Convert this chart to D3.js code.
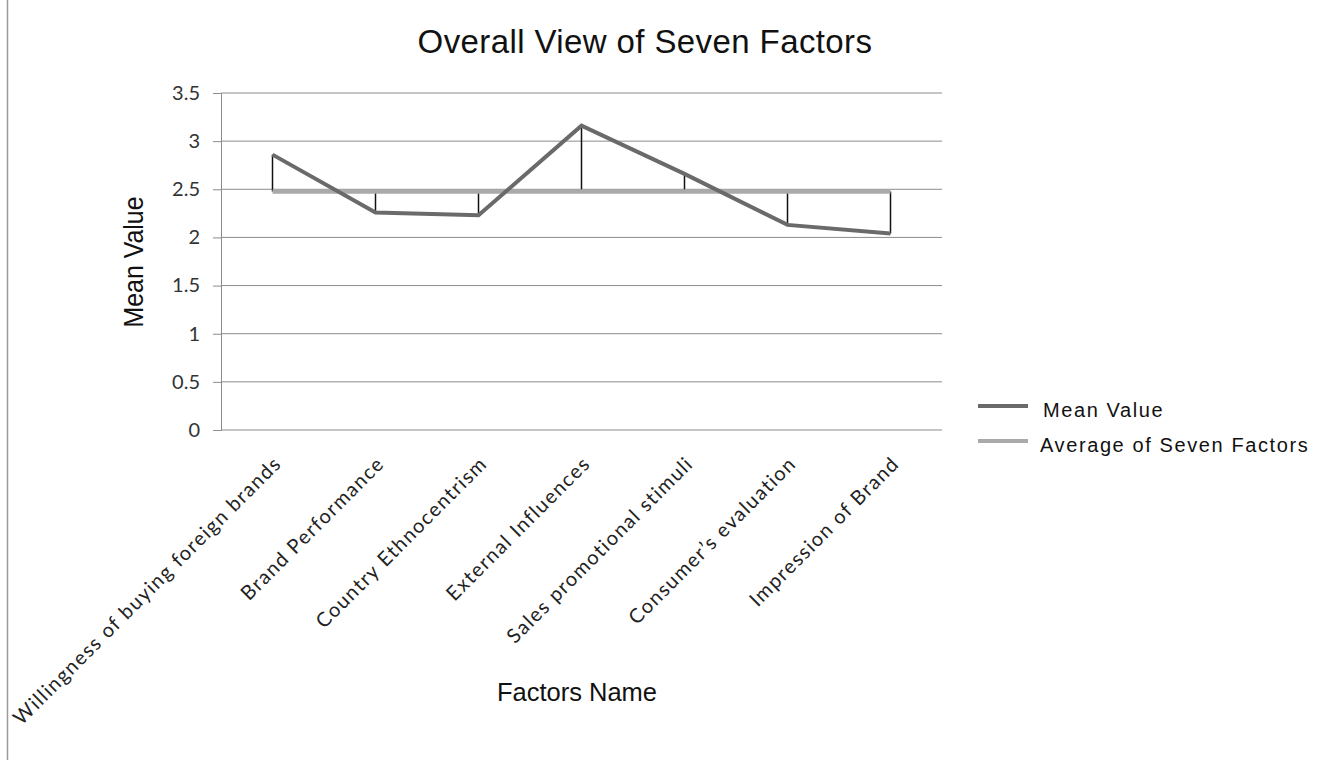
<!DOCTYPE html>
<html>
<head>
<meta charset="utf-8">
<script src="https://cdn.jsdelivr.net/npm/d3@7/dist/d3.min.js"></script>
<style>
  html, body { margin: 0; padding: 0; background: #fff; }
  svg { display: block; }
</style>
</head>
<body>
<svg id="chart" width="1317" height="760"></svg>
<script>
// Factor names along the horizontal axis
const factors = [
  "Willingness of buying foreign brands",
  "Brand Performance",
  "Country Ethnocentrism",
  "External Influences",
  "Sales promotional stimuli",
  "Consumer\u2019s evaluation",
  "Impression of Brand"
];
// Mean value of each factor
const meanValues = [2.86, 2.26, 2.23, 3.16, 2.66, 2.13, 2.04];
// Vertical axis ticks
const yTicks = [0, 0.5, 1, 1.5, 2, 2.5, 3, 3.5];
const seriesNames = ["Mean Value", "Average of Seven Factors"];

const average = d3.mean(meanValues);
const avgValues = meanValues.map(() => average);

const svg = d3.select("#chart");
const plot = { left: 221, right: 942, top: 93, bottom: 430 };
const labelFont = "Lato, 'Open Sans', sans-serif";
const titleFont = "'Liberation Sans', Arial, Helvetica, sans-serif";

const x = d3.scaleBand().domain(factors).range([plot.left, plot.right]);
const y = d3.scaleLinear().domain([0, 3.5]).range([plot.bottom, plot.top]);
const cx = d => x(d) + x.bandwidth() / 2;

// page border line on the left
svg.append("line")
  .attr("x1", 7.5).attr("x2", 7.5).attr("y1", 0).attr("y2", 760)
  .attr("stroke", "#9a9a9a").attr("stroke-width", 1.5);

// horizontal gridlines
svg.append("g").selectAll("line").data(yTicks.filter(t => t > 0)).join("line")
  .attr("x1", plot.left).attr("x2", plot.right)
  .attr("y1", d => y(d)).attr("y2", d => y(d))
  .attr("stroke", "#8c8c8c").attr("stroke-width", 1);

// y axis
const yAxis = svg.append("g")
  .attr("transform", `translate(${plot.left},0)`)
  .call(d3.axisLeft(y).tickValues(yTicks).tickFormat(d3.format("")).tickSize(8).tickPadding(13));
yAxis.select(".domain").attr("stroke", "#8c8c8c");
yAxis.selectAll(".tick line").attr("stroke", "#8c8c8c");
yAxis.selectAll("text")
  .attr("font-family", labelFont)
  .attr("font-size", 20).attr("fill", "#333");

// x axis baseline
svg.append("line")
  .attr("x1", plot.left).attr("x2", plot.right)
  .attr("y1", y(0)).attr("y2", y(0))
  .attr("stroke", "#8c8c8c").attr("stroke-width", 1.2);

// category labels, rotated
svg.append("g").selectAll("text").data(factors).join("text")
  .attr("transform", d => `translate(${cx(d) + 10},${plot.bottom + 35}) rotate(-45)`)
  .attr("text-anchor", "end")
  .attr("font-family", labelFont)
  .attr("font-size", 20).attr("letter-spacing", 1.4).attr("fill", "#222")
  .text(d => d);

// high-low drop lines between mean and average
svg.append("g").selectAll("line").data(factors).join("line")
  .attr("x1", d => cx(d)).attr("x2", d => cx(d))
  .attr("y1", (d, i) => y(meanValues[i])).attr("y2", (d, i) => y(avgValues[i]))
  .attr("stroke", "#111").attr("stroke-width", 1.5);

const line = d3.line().x((d, i) => cx(factors[i])).y(d => y(d));

// average line
svg.append("path").datum(avgValues)
  .attr("d", line).attr("fill", "none")
  .attr("stroke", "#aaaaaa").attr("stroke-width", 4.5);

// mean value line
svg.append("path").datum(meanValues)
  .attr("d", line).attr("fill", "none")
  .attr("stroke", "#6a6a6a").attr("stroke-width", 4)
  .attr("stroke-linejoin", "miter");

// title
svg.append("text")
  .attr("x", 645).attr("y", 53)
  .attr("text-anchor", "middle")
  .attr("font-family", titleFont)
  .attr("font-size", 33).attr("letter-spacing", 0.4).attr("fill", "#111")
  .text("Overall View of Seven Factors");

// axis titles (tall, narrow lettering)
svg.append("text")
  .attr("transform", `translate(143,262) rotate(-90)`)
  .attr("text-anchor", "middle")
  .attr("font-family", titleFont)
  .attr("font-size", 27)
  .attr("textLength", 131).attr("lengthAdjust", "spacingAndGlyphs")
  .attr("fill", "#111")
  .text("Mean Value");

svg.append("text")
  .attr("x", 577).attr("y", 701)
  .attr("text-anchor", "middle")
  .attr("font-family", titleFont)
  .attr("font-size", 26)
  .attr("textLength", 160).attr("lengthAdjust", "spacingAndGlyphs")
  .attr("fill", "#111")
  .text("Factors Name");

// legend
const legendColors = ["#6a6a6a", "#aaaaaa"];
const legendTextX = [1043, 1040];
const legend = svg.append("g").selectAll("g").data(seriesNames).join("g")
  .attr("transform", (d, i) => `translate(0,${406 + i * 35})`);
legend.append("line")
  .attr("x1", 978).attr("x2", 1028).attr("y1", 0).attr("y2", 0)
  .attr("stroke", (d, i) => legendColors[i]).attr("stroke-width", 4);
legend.append("text")
  .attr("x", (d, i) => legendTextX[i]).attr("y", 11)
  .attr("font-family", titleFont)
  .attr("font-size", 20).attr("letter-spacing", 1.6).attr("fill", "#111")
  .text(d => d);
</script>
</body>
</html>
